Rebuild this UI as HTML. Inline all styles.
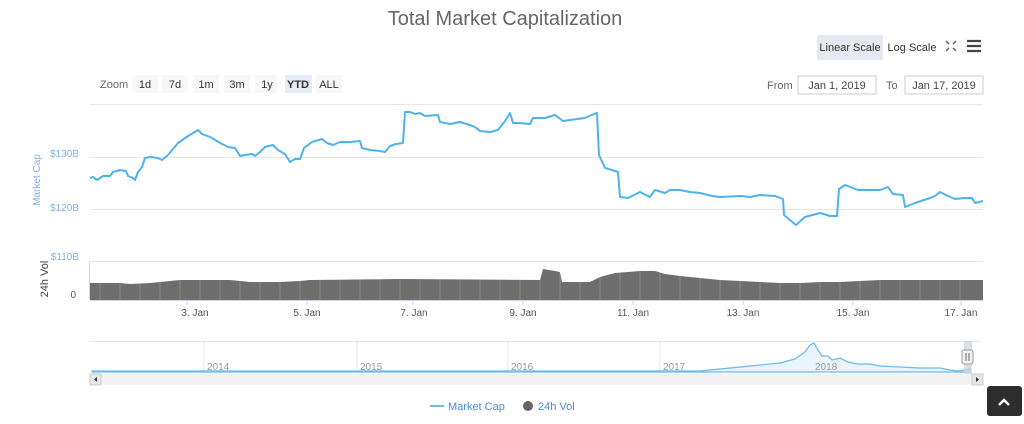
<!DOCTYPE html>
<html><head><meta charset="utf-8"><style>
body{margin:0;background:#fff;width:1024px;height:419px;overflow:hidden;font-family:"Liberation Sans",sans-serif;}
svg text{font-family:"Liberation Sans",sans-serif;}
</style></head><body>
<svg width="1024" height="419" xmlns="http://www.w3.org/2000/svg">
<text x="505" y="25" text-anchor="middle" font-size="20" fill="#666">Total Market Capitalization</text>
<rect x="817" y="35" width="66" height="25" rx="2" fill="#e6e9ef"/>
<text x="850" y="51" text-anchor="middle" font-size="11" fill="#333">Linear Scale</text>
<text x="912" y="51" text-anchor="middle" font-size="11" fill="#333">Log Scale</text>
<g stroke="#666" stroke-width="1.5"><path d="M946 41l3 3M956 41l-3 3M946 51l3-3M956 51l-3-3"/></g>
<g stroke="#444" stroke-width="2.2"><path d="M967 41h14M967 46h14M967 51h14"/></g>
<text x="100" y="88" font-size="11" fill="#666">Zoom</text>
<g font-size="11" fill="#333" text-anchor="middle">
<rect x="132" y="75" width="26" height="18" fill="#f7f7f7"/><text x="145" y="88">1d</text>
<rect x="162" y="75" width="26" height="18" fill="#f7f7f7"/><text x="175" y="88">7d</text>
<rect x="193" y="75" width="26" height="18" fill="#f7f7f7"/><text x="206" y="88">1m</text>
<rect x="224" y="75" width="26" height="18" fill="#f7f7f7"/><text x="237" y="88">3m</text>
<rect x="255" y="75" width="22" height="18" fill="#f7f7f7"/><text x="267" y="88">1y</text>
<rect x="285" y="75" width="27" height="18" fill="#e6ebf5"/><text x="298" y="88" font-weight="bold">YTD</text>
<rect x="316" y="75" width="27" height="18" fill="#f7f7f7"/><text x="329" y="88">ALL</text>
</g>
<text x="767" y="89" font-size="11" fill="#666">From</text>
<rect x="798" y="76" width="78" height="18" fill="#fff" stroke="#ccc"/>
<text x="837" y="89" text-anchor="middle" font-size="11" fill="#444">Jan 1, 2019</text>
<text x="886" y="89" font-size="11" fill="#666">To</text>
<rect x="905" y="76" width="78" height="18" fill="#fff" stroke="#ccc"/>
<text x="944" y="89" text-anchor="middle" font-size="11" fill="#444">Jan 17, 2019</text>
<g stroke="#e6e6e6" stroke-width="1">
<path d="M90 104.5H983M90 157.5H983M90 209.5H983M90 261.5H983"/>
</g>
<g font-size="10" fill="#7cb5ec" text-anchor="end">
<text x="79" y="157">$130B</text><text x="79" y="211">$120B</text><text x="79" y="260">$110B</text>
</g>
<text x="40" y="180" font-size="10" fill="#7cb5ec" text-anchor="middle" transform="rotate(-90 40 180)">Market Cap</text>
<text x="48" y="279" font-size="11" fill="#444" text-anchor="middle" transform="rotate(-90 48 279)">24h Vol</text>
<text x="76" y="298" font-size="10" fill="#555" text-anchor="end">0</text>
<polygon fill="#6e6e6e" points="90,300 90,283 120,283 130,284 150,283 160,282 180,280 230,280 250,282 280,282 300,281 310,280 400,279 540,280 543,269 555,271 560,272 562,282 590,282 600,277 615,273 640,271 655,271 665,274 680,276 700,278 720,280 740,281 760,282 780,283 800,283 820,282 840,282 860,281 880,280 983,280 983,300"/>
<g stroke="#fff" stroke-width="0.4" opacity="0.5">
<path d="M100 270V300M120 270V300M140 270V300M160 270V300M180 270V300M200 270V300M220 270V300M240 270V300M260 270V300M280 270V300M300 270V300M320 270V300M340 270V300M360 270V300M380 270V300M400 270V300M420 270V300M440 270V300M460 270V300M480 270V300M500 270V300M520 270V300M540 270V300M560 270V300M580 270V300M600 270V300M620 270V300M640 270V300M660 270V300M680 270V300M700 270V300M720 270V300M740 270V300M760 270V300M780 270V300M800 270V300M820 270V300M840 270V300M860 270V300M880 270V300M900 270V300M920 270V300M940 270V300M960 270V300"/>
</g>
<path d="M90 300.5H983" stroke="#ccd6eb"/>
<path d="M89.5 262V300" stroke="#ccd6eb"/>
<polyline fill="none" stroke="#4fb3ea" stroke-width="2" stroke-linejoin="round" points="90,178 93,177 97,180 103,176 110,176 113,172 120,170 126,171 128,176 133,178 135,180 138,172 142,167 145,158 150,157 158,158 162,160 168,155 173,149 178,143 185,138 193,133 198,130 202,134 210,137 217,141 222,144 228,147 235,148 240,156 245,155 252,154 255,156 260,152 265,147 273,145 278,150 285,154 290,162 295,159 300,159 304,148 312,142 322,139 327,143 333,145 340,142 350,142 360,141 362,148 370,150 380,151 385,152 390,146 396,144 403,143 405,112 410,112 415,114 420,113 425,116 438,115 440,122 450,124 460,122 470,125 475,127 480,131 490,132 498,130 505,121 510,113 513,123 520,123 530,124 533,118 545,118 555,115 563,121 570,120 585,118 594,114 597,113 599,155 605,168 612,170 618,172 620,197 628,198 640,192 650,197 655,190 665,193 670,190 680,190 690,192 700,193 712,196 720,197 740,196 750,197 760,195 775,196 783,199 784,215 790,220 796,225 805,217 820,213 830,216 837,216 839,189 845,185 858,190 875,190 880,190 888,187 893,194 903,195 905,207 915,203 930,198 935,196 940,192 948,196 955,199 965,198 972,198 975,203 983,201"/>
<g stroke="#ccd6eb"><path d="M187 300v5M307 300v5M413 300v5M523 300v5M633 300v5M743 300v5M853 300v5M961 300v5"/></g>
<g font-size="10" fill="#555" text-anchor="middle">
<text x="195" y="316">3. Jan</text><text x="307" y="316">5. Jan</text><text x="414" y="316">7. Jan</text><text x="523" y="316">9. Jan</text><text x="633" y="316">11. Jan</text><text x="743" y="316">13. Jan</text><text x="853" y="316">15. Jan</text><text x="961" y="316">17. Jan</text>
</g>
<path d="M90 341.5H980" stroke="#e6e6e6"/>
<g stroke="#e6e6e6"><path d="M204 341V372M357 341V372M508 341V372M660 341V372M812 341V372"/></g>
<path d="M92 371L700 371L720 369L740 367L760 365L780 363L795 359L805 352L810 345L814 343L818 350L822 356L828 356L832 360L840 358L848 362L858 364L870 364L880 366L900 367L920 368L940 368L950 370L958 371L970 369V372H92Z" fill="#e8f3fc" stroke="#6fb8ee" stroke-width="1.2"/>
<g font-size="10" fill="#999"><text x="207" y="370">2014</text><text x="360" y="370">2015</text><text x="511" y="370">2016</text><text x="663" y="370">2017</text><text x="815" y="370">2018</text></g>
<rect x="964" y="341" width="8" height="44" fill="#c9d3e3" opacity="0.7"/>
<rect x="962" y="350" width="11" height="14" rx="2" fill="#f2f2f2" stroke="#999"/>
<path d="M966 353v8M969 353v8" stroke="#666"/>
<rect x="90" y="374" width="893" height="11" fill="#f2f2f2"/>
<rect x="90" y="374" width="11" height="11" fill="#e6e6e6" stroke="#ccc"/>
<rect x="972" y="374" width="11" height="11" fill="#e6e6e6" stroke="#ccc"/>
<path d="M97 377v5l-3-2.5z" fill="#333"/><path d="M976 377v5l3-2.5z" fill="#333"/>
<path d="M430 406h14" stroke="#7cb5ec" stroke-width="2"/>
<text x="448" y="410" font-size="11" fill="#4a8fd9">Market Cap</text>
<circle cx="528" cy="406" r="5" fill="#666"/>
<text x="538" y="410" font-size="11" fill="#4a8fd9">24h Vol</text>
<rect x="987" y="386" width="35" height="30" rx="3" fill="#2d2d2d"/>
<path d="M999 405l5-5 5 5" fill="none" stroke="#fff" stroke-width="2.5"/>
</svg>
</body></html>
